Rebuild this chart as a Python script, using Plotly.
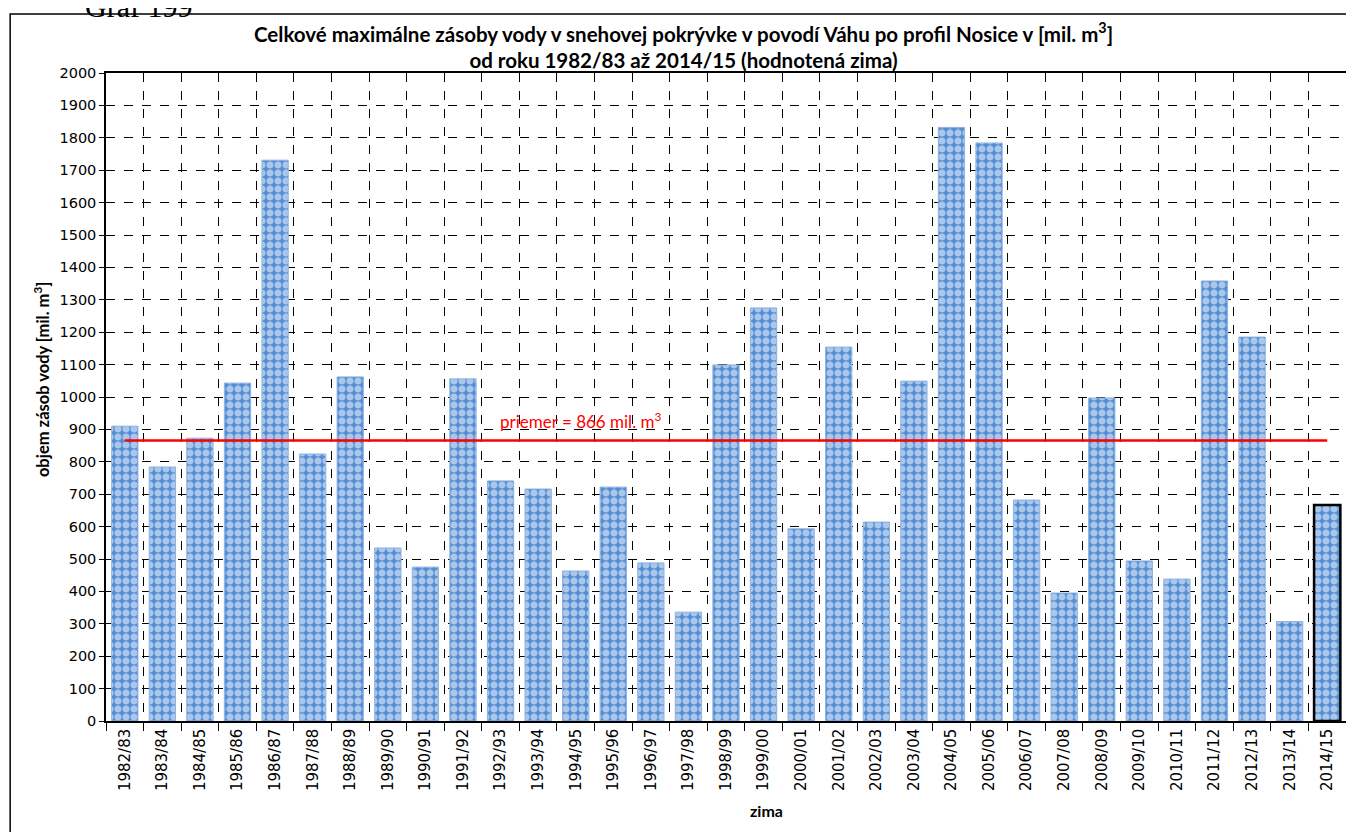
import plotly.graph_objects as go

winters = ["1982/83","1983/84","1984/85","1985/86","1986/87","1987/88","1988/89","1989/90",
           "1990/91","1991/92","1992/93","1993/94","1994/95","1995/96","1996/97","1997/98",
           "1998/99","1999/00","2000/01","2001/02","2002/03","2003/04","2004/05","2005/06",
           "2006/07","2007/08","2008/09","2009/10","2010/11","2011/12","2012/13","2013/14","2014/15"]
volumes = [910, 784, 873, 1043, 1731, 824, 1062, 534, 475, 1056, 741, 716, 463, 722, 488, 336,
           1099, 1275, 593, 1154, 614, 1049, 1832, 1784, 682, 395, 997, 494, 438, 1358, 1185, 307, 667]
mean_value = 866

blue = "#558ed5"
line_colors = ["#8db3e2"] * (len(winters) - 1) + ["black"]
line_widths = [1] * (len(winters) - 1) + [2.5]

fig = go.Figure()
fig.add_trace(go.Bar(
    x=winters, y=volumes, width=0.7,
    marker=dict(color=blue,
                line=dict(color=line_colors, width=line_widths),
                pattern=dict(shape=".", fgcolor="white", bgcolor=blue, size=8, solidity=0.6,
                             fillmode="overlay")),
    showlegend=False,
))
fig.add_trace(go.Scatter(
    x=[winters[0], winters[-1]], y=[mean_value, mean_value], mode="lines",
    line=dict(color="#ff0000", width=2.5), showlegend=False,
))

# page offset (body margin 8px)
OFF = 8
W, H = 1354 - OFF, 832 - OFF
PL, PR, PT, PB = 106, 1348, 73, 721          # plot area in page pixels
L, R, T, B = PL - OFF, W - (PR - OFF), PT - OFF, H - (PB - OFF)
def px(x): return (x - PL) / (PR - PL)
def py(y): return (PB - y) / (PB - PT)

fig.update_layout(
    width=W, height=H,
    margin=dict(l=L, r=R, t=T, b=B),
    paper_bgcolor="white", plot_bgcolor="white",
    font=dict(family="DejaVu Sans", color="black"),
    bargap=0.3,
    xaxis=dict(type="category", tickson="boundaries", showgrid=True, gridcolor="black",
               griddash="dash", gridwidth=1, showline=True, linecolor="black", linewidth=1.5,
               mirror=True, ticks="outside", ticklen=8, tickcolor="black", tickangle=-90,
               tickfont=dict(size=15, family="DejaVu Sans"), range=[-0.5, len(winters) - 0.5]),
    yaxis=dict(range=[0, 2000], dtick=100, showgrid=True, gridcolor="black", griddash="dash",
               gridwidth=1, showline=True, linecolor="black", linewidth=1.5, mirror=True,
               ticks="outside", ticklen=5, tickcolor="black", zeroline=False,
               tickfont=dict(size=14.5, family="DejaVu Sans")),
    shapes=[dict(type="rect", xref="paper", yref="paper", x0=px(10), x1=px(1362), y0=py(842), y1=py(14),
                 line=dict(color="black", width=1.5), fillcolor="rgba(0,0,0,0)", layer="below")],
    annotations=[
        dict(text="Graf 199", xref="paper", yref="paper", x=px(83), y=py(25), xanchor="left", yanchor="bottom",
             showarrow=False, font=dict(family="Liberation Serif", size=30)),
        dict(text="Celkové maximálne zásoby vody v snehovej pokrývke v povodí Váhu po profil Nosice v [mil. m<sup>3</sup>]<br>od roku 1982/83 až 2014/15 (hodnotená zima)",
             xref="paper", yref="paper", x=px(684), y=py(17), xanchor="center", yanchor="top",
             showarrow=False, font=dict(family="Lato", size=20.5, weight="bold")),
        dict(text="objem zásob vody [mil. m<sup>3</sup>]", xref="paper", yref="paper", x=px(29), y=py(380),
             textangle=-90, showarrow=False, font=dict(family="Lato", size=16.5, weight="bold")),
        dict(text="zima", xref="paper", yref="paper", x=px(768), y=py(822), showarrow=False,
             font=dict(family="Lato", size=16, weight="bold")),
        dict(text="priemer = 866 mil. m<sup>3</sup>", xref="paper", yref="y", x=px(499), y=926,
             xanchor="left", showarrow=False, font=dict(family="Lato", size=17, color="#ff0000")),
    ],
)

fig.write_html("out.html")
